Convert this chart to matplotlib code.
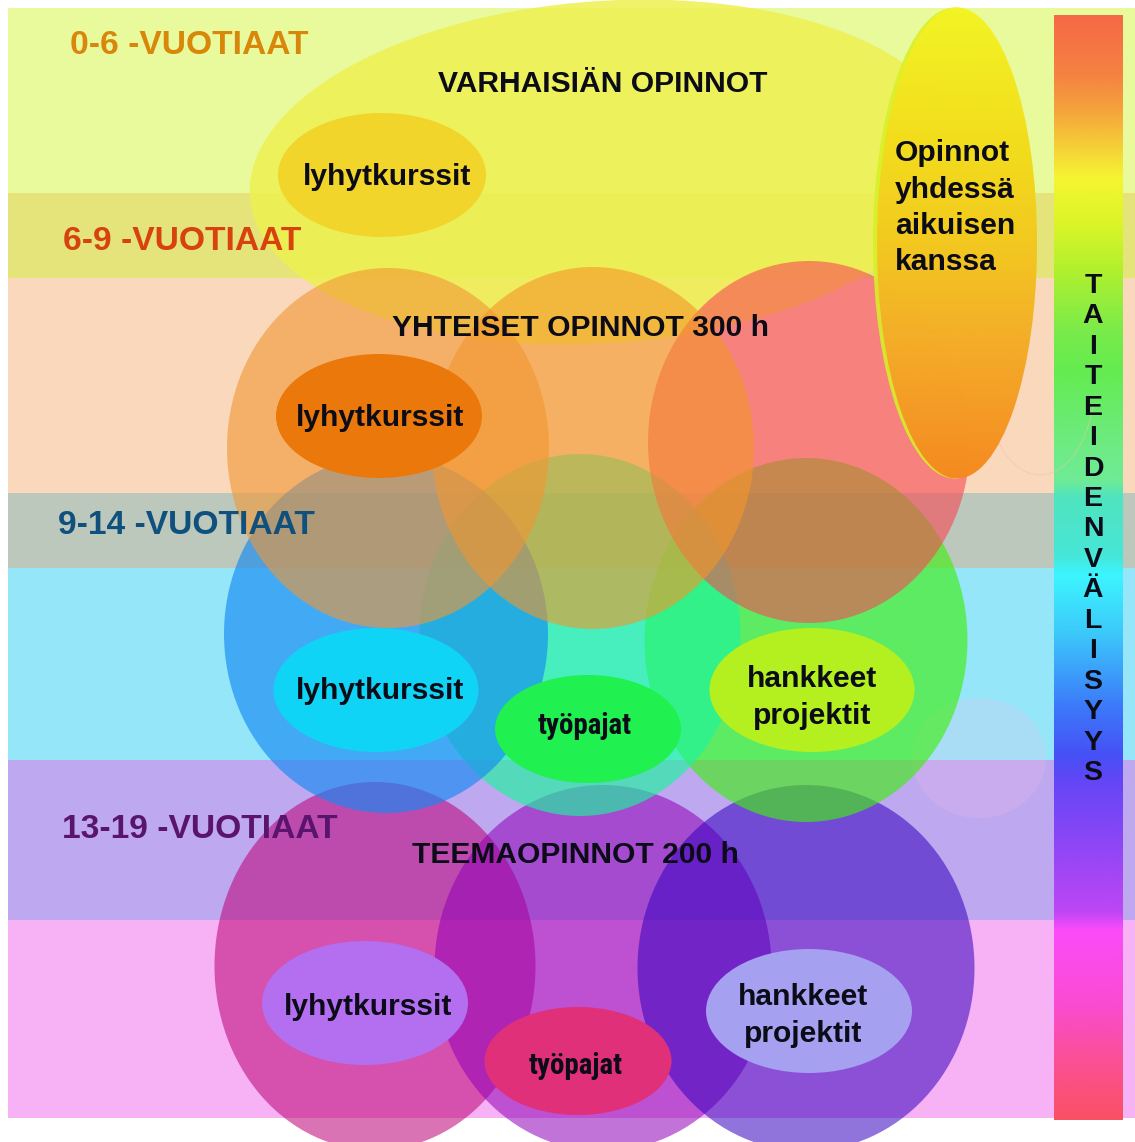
import os
import numpy as np
import matplotlib
matplotlib.use("Agg")
import matplotlib.pyplot as plt
from matplotlib.patches import Ellipse, Rectangle, Arc
from matplotlib import font_manager
from matplotlib.font_manager import FontProperties

# ---------------- content ----------------
AGE_LABELS = ["0-6 -VUOTIAAT", "6-9 -VUOTIAAT", "9-14 -VUOTIAAT", "13-19 -VUOTIAAT"]
AGE_COLORS = ["#d8870a", "#d7420f", "#0f507d", "#5a146e"]
GROUP_TITLES = ["VARHAISIÄN OPINNOT", "YHTEISET OPINNOT 300 h", "TEEMAOPINNOT 200 h"]
ADULT_TEXT = ["Opinnot", "yhdessä", "aikuisen", "kanssa"]
SHORT_COURSES = "lyhytkurssit"
WORKSHOPS = "työpajat"
PROJECTS = ["hankkeet", "projektit"]
SIDE_WORD = "TAITEIDENVÄLISYYS"

plt.rcParams["font.family"] = ["Liberation Sans", "DejaVu Sans"]

# pick a narrow / condensed bold face for "työpajat" if one is installed
def find_narrow():
    prefs = ["liberationsansnarrow-bold", "robotocondensed-bold", "opensans_condensed-bold",
             "opensanscondensed-bold", "notosansdisplay-condensedbold", "notosans-condensedbold",
             "dejavusanscondensed-bold"]
    files = {os.path.basename(f.fname).lower().rsplit(".", 1)[0]: f.fname
             for f in font_manager.fontManager.ttflist}
    for p in prefs:
        if p in files:
            return files[p]
    for k, v in files.items():
        if ("narrow" in k or "condensed" in k) and "bold" in k and "italic" not in k and "semi" not in k and "extra" not in k:
            return v
    return None

NARROW_FILE = find_narrow()

W, H = 1135, 1142
fig = plt.figure(figsize=(W / 100, H / 100), dpi=100)
ax = fig.add_axes([0, 0, 1, 1])
ax.set_xlim(0, W)
ax.set_ylim(H, 0)
ax.axis("off")

# ---------------- background bands ----------------
bands = [(8, 193, "#e8fa9c"), (193, 278, "#e4e47a"), (278, 493, "#f9d8bc"),
         (493, 568, "#bcc8bc"), (568, 760, "#96e6f9"), (760, 920, "#bea8f0"),
         (920, 1118, "#f6b2f4")]
for y0, y1, c in bands:
    ax.add_patch(Rectangle((8, y0), W - 8, y1 - y0, facecolor=c, edgecolor="none", zorder=1))

# ---------------- gradient bar ----------------
bar_stops = [(15, (245, 105, 70)), (74, (245, 130, 65)), (111, (245, 165, 60)),
             (148, (245, 210, 55)), (178, (245, 245, 50)), (222, (220, 245, 40)),
             (267, (180, 240, 45)), (333, (120, 235, 75)), (370, (100, 235, 80)),
             (444, (110, 235, 130)), (481, (110, 235, 150)), (496, (80, 228, 190)),
             (555, (70, 230, 215)), (575, (60, 245, 255)), (634, (60, 200, 250)),
             (708, (60, 120, 250)), (756, (70, 80, 245)), (782, (100, 70, 245)),
             (856, (150, 70, 245)), (912, (190, 70, 245)), (930, (250, 75, 250)),
             (1004, (250, 75, 210)), (1060, (250, 80, 150)), (1120, (250, 80, 100))]
ys = np.linspace(15, 1120, 600)
sy = [s[0] for s in bar_stops]
grad = np.zeros((len(ys), 1, 3))
for k in range(3):
    grad[:, 0, k] = np.interp(ys, sy, [s[1][k] for s in bar_stops]) / 255
ax.imshow(grad, extent=[1054, 1123, 1120, 15], aspect="auto", zorder=2, interpolation="bilinear")

def rgb(t):
    return tuple(v / 255 for v in t)

# ---------------- big yellow ellipse ----------------
ax.add_patch(Ellipse((605, 172), 712, 342, angle=-4, facecolor=rgb((238, 240, 80)),
                     alpha=0.85, edgecolor="none", zorder=3))

# ---------------- purple group ----------------
for (cx, cy, w, h, col) in [(375, 966, 321, 368, (189, 0, 118)),
                            (603, 968, 337, 366, (144, 0, 182)),
                            (806, 968, 337, 366, (53, 0, 191))]:
    ax.add_patch(Ellipse((cx, cy), w, h, facecolor=rgb(col), alpha=0.55, edgecolor="none", zorder=4))

# faint ghost circle
ax.add_patch(Ellipse((979, 758), 134, 120, facecolor=rgb((240, 190, 235)), alpha=0.22,
                     edgecolor="none", zorder=4))
# faint ghost arc beside the tall ellipse
ax.add_patch(Arc((1040, 380), 110, 190, theta1=25, theta2=165, edgecolor=rgb((230, 200, 170)),
                 linewidth=0.8, alpha=0.5, zorder=3))

# ---------------- blue group ----------------
for (cx, cy, w, h, col) in [(806, 640, 323, 364, (65, 238, 20)),
                            (580, 635, 321, 362, (27, 245, 158)),
                            (386, 634, 324, 358, (21, 138, 243))]:
    ax.add_patch(Ellipse((cx, cy), w, h, facecolor=rgb(col), alpha=0.65, edgecolor="none", zorder=5))

# ---------------- orange group ----------------
for (cx, cy, w, h, col) in [(809, 442, 322, 362, (247, 73, 83)),
                            (593, 448, 322, 362, (245, 150, 40)),
                            (388, 448, 322, 360, (242, 150, 50))]:
    ax.add_patch(Ellipse((cx, cy), w, h, facecolor=rgb(col), alpha=0.6, edgecolor="none", zorder=6))

# ---------------- tall gradient ellipse ----------------
tall_stops = [(7, (245, 245, 35)), (150, (245, 218, 28)), (233, (245, 200, 30)),
              (333, (247, 170, 40)), (433, (247, 142, 35)), (478, (248, 130, 30))]
ty = np.linspace(7, 478, 300)
tg = np.zeros((len(ty), 1, 4))
for k in range(3):
    tg[:, 0, k] = np.interp(ty, [s[0] for s in tall_stops], [s[1][k] for s in tall_stops]) / 255
tg[:, 0, 3] = 0.92
ax.add_patch(Ellipse((955, 243), 164, 471, facecolor=rgb((215, 240, 40)), edgecolor="none",
                     alpha=0.9, zorder=7))
tall = Ellipse((957, 243), 160, 471, facecolor="none", edgecolor="none", zorder=7)
ax.add_patch(tall)
im = ax.imshow(tg, extent=[870, 1042, 478, 7], aspect="auto", zorder=7, interpolation="bilinear")
im.set_clip_path(tall)
ax.set_xlim(0, W)
ax.set_ylim(H, 0)

# ---------------- inner ellipses ----------------
inner = [(382, 175, 208, 124, "#f2d52a"), (379, 416, 206, 124, "#eb780a"),
         (376, 690, 205, 124, "#10d4f5"), (588, 729, 186, 108, "#20f050"),
         (812, 690, 205, 124, "#b4f020"), (365, 1003, 206, 124, "#b46ef0"),
         (578, 1061, 187, 108, "#e0307a"), (809, 1011, 206, 124, "#a5a0f0")]
for cx, cy, w, h, c in inner:
    ax.add_patch(Ellipse((cx, cy), w, h, facecolor=c, edgecolor="none", zorder=8))

# ---------------- texts ----------------
TXT = "#0c0c18"
BODY = 21.6
age_pos = [(70, 46), (63, 242), (58, 526), (62, 829)]
for (x, y), lab, c in zip(age_pos, AGE_LABELS, AGE_COLORS):
    ax.text(x, y, lab, color=c, fontsize=24.2, fontweight="bold", ha="left", va="center", zorder=10)

title_pos = [(603, 84), (581, 328), (575, 855)]
for (x, y), lab in zip(title_pos, GROUP_TITLES):
    ax.text(x, y, lab, color=TXT, fontsize=BODY, fontweight="bold", ha="center", va="center", zorder=10)

for i, line in enumerate(ADULT_TEXT):
    ax.text(895, 153 + i * 36.5, line, color=TXT, fontsize=BODY, fontweight="bold",
            ha="left", va="center", zorder=10)

for x, y in [(387, 177), (380, 418), (380, 691), (368, 1007)]:
    ax.text(x, y, SHORT_COURSES, color=TXT, fontsize=BODY, fontweight="bold",
            ha="center", va="center", zorder=10)

# "työpajat" in a narrow face, sized to the reference width (~94 px)
if NARROW_FILE:
    wp = FontProperties(fname=NARROW_FILE, size=BODY)
else:
    wp = FontProperties(family=["Liberation Sans", "DejaVu Sans"], weight="bold", size=BODY)
probe = ax.text(0, 0, WORKSHOPS, fontproperties=wp)
fig.canvas.draw()
pw = probe.get_window_extent().width
probe.remove()
wsize = min(BODY, BODY * 94.0 / pw) if pw > 0 else BODY
wp.set_size(wsize)
for x, y in [(585, 726), (576, 1066)]:
    ax.text(x, y, WORKSHOPS, color=TXT, fontproperties=wp, ha="center", va="center", zorder=10)

for x, y in [(812, 679), (803, 997)]:
    for j, line in enumerate(PROJECTS):
        ax.text(x, y + j * 37, line, color=TXT, fontsize=BODY, fontweight="bold",
                ha="center", va="center", zorder=10)

for i, ch in enumerate(SIDE_WORD):
    ax.text(1093, 286 + i * (770 - 283) / (len(SIDE_WORD) - 1), ch, color=TXT,
            fontsize=20.5, fontweight="bold", ha="center", va="center", zorder=10)

fig.savefig("out.png", dpi=100)
